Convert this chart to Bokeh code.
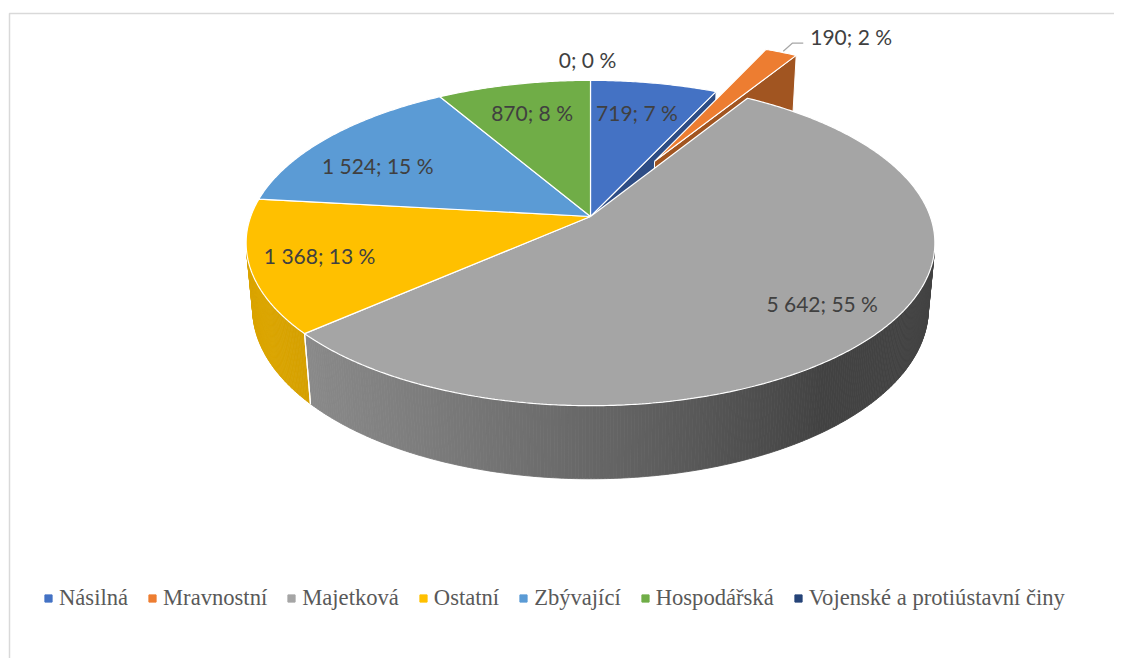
import numpy as np
from bokeh.plotting import figure
from bokeh.models import Range1d, ColumnDataSource, Legend, LegendItem
from bokeh.core.properties import value
from bokeh.embed import file_html
from bokeh.resources import INLINE

# ---------------- data ----------------
categories = ["Násilná", "Mravnostní", "Majetková", "Ostatní", "Zbývající",
              "Hospodářská", "Vojenské a protiústavní činy"]
counts = [719, 190, 5642, 1368, 1524, 870, 0]
colors = ["#4472C4", "#ED7D31", "#A5A5A5", "#FFC000", "#5B9BD5", "#70AD47", "#264478"]

# ---------------- style / layout ----------------
explode = [0.0, 0.42, 0.0, 0.0, 0.0, 0.0, 0.0]
label_r = [0.75, None, 0.8, 0.8, 0.78, 0.76, 1.18]
label_nudge = [(-3, 0), (0, -3), (5, -2), (-1, -1), (-5, 12), (2, 0), (-3, 0)]

CX, CY = 590.0, 216.0
FOC = 1845.0
DIST = 5.43
SN, CS = 0.466, 0.885
HGT = 0.22
CAM = np.array([0.0, DIST * SN, DIST * CS])


def proj(X, Y, Z):
    X = np.asarray(X, float); Y = np.asarray(Y, float); Z = np.asarray(Z, float)
    depth = DIST - (Z * CS + Y * SN)
    return CX + FOC * X / depth, CY + FOC * (Z * SN - Y * CS) / depth


def shade(hexcol, f):
    r, g, b = int(hexcol[1:3], 16), int(hexcol[3:5], 16), int(hexcol[5:7], 16)
    return "#%02x%02x%02x" % (int(r * f), int(g * f), int(b * f))


def wall_factor(theta_deg):
    d = np.cos(np.radians(theta_deg - 250.0))
    return 0.40 + 0.46 * np.clip((d + 0.3) / 1.3, 0, 1)


total = float(sum(counts))
fr = [c / total for c in counts]
cum = np.concatenate([[0.0], np.cumsum(fr)])
starts = cum[:-1] * 360.0
ends = cum[1:] * 360.0
mids = 0.5 * (starts + ends)
offs = [(e * np.sin(np.radians(m)), -e * np.cos(np.radians(m))) for e, m in zip(explode, mids)]

p = figure(width=1114, height=658, x_range=Range1d(0, 1114), y_range=Range1d(658, 0),
           output_backend="svg", toolbar_location=None, min_border=0,
           x_axis_location=None, y_axis_location=None)
p.grid.visible = False
p.outline_line_color = None
p.background_fill_color = "white"

# chart border (top and left visible)
p.line([9, 9, 1122], [666, 13, 13], line_color="#D9D9D9", line_width=1.5)

# ---------------- walls ----------------
wx, wy, wc = [], [], []
edge_x, edge_y = [], []
for i in range(len(counts)):
    if counts[i] == 0:
        continue
    a0, a1 = starts[i], ends[i]
    ox, oz = offs[i]
    n = max(2, int(np.ceil((a1 - a0) / 0.5)))
    angs = np.linspace(a0, a1, n + 1)
    vis = []
    for k in range(n):
        am = np.radians(0.5 * (angs[k] + angs[k + 1]))
        nx, nz = np.sin(am), -np.cos(am)
        px, pz = nx + ox, nz + oz
        dot = nx * (CAM[0] - px) + nz * (CAM[2] - pz)
        vis.append(dot > 0)
        if dot <= 0:
            continue
        aa = np.radians([angs[k], angs[k + 1]])
        X = np.sin(aa) + ox
        Z = -np.cos(aa) + oz
        tx, ty = proj(X, [0, 0], Z)
        bx, by = proj(X, [-HGT, -HGT], Z)
        wx.append([tx[0], tx[1], bx[1], bx[0]])
        wy.append([ty[0], ty[1], by[1], by[0]])
        wc.append(shade(colors[i], wall_factor(np.degrees(am))))
    for ang, v in ((a0, vis[0]), (a1, vis[-1])):
        if v and not (ang < 1e-6 or ang > 359.999):
            r = np.radians(ang)
            ex, ey = proj([np.sin(r) + ox] * 2, [0, -HGT], [-np.cos(r) + oz] * 2)
            edge_x.append(list(ex)); edge_y.append(list(ey))

p.patches(xs="xs", ys="ys", fill_color="c", line_color="c", line_width=0.8,
          source=ColumnDataSource(dict(xs=wx, ys=wy, c=wc)))
if edge_x:
    p.multi_line(edge_x, edge_y, line_color="white", line_width=1.2)

# ---------------- cut faces next to exploded slices ----------------
nz_idx = [i for i in range(len(counts)) if counts[i] > 0]
cfx, cfy, cfc = [], [], []
for j, i in enumerate(nz_idx):
    prv = nz_idx[j - 1]
    nxt = nz_idx[(j + 1) % len(nz_idx)]
    ox, oz = offs[i]
    faces = []
    if explode[i] > 0 or explode[prv] > 0:
        faces.append((starts[i], -1))
    if explode[i] > 0 or explode[nxt] > 0:
        faces.append((ends[i], 1))
    for ang, sgn in faces:
        r = np.radians(ang)
        nx, nz = sgn * np.cos(r), sgn * np.sin(r)
        dot = nx * (CAM[0] - ox) + nz * (CAM[2] - oz)
        if dot <= 0:
            continue
        X = [ox, np.sin(r) + ox, np.sin(r) + ox, ox]
        Y = [0, 0, -HGT, -HGT]
        Z = [oz, -np.cos(r) + oz, -np.cos(r) + oz, oz]
        fx, fy = proj(X, Y, Z)
        cfx.append(list(fx)); cfy.append(list(fy))
        cfc.append(shade(colors[i], 0.68))
if cfx:
    p.patches(xs="xs", ys="ys", fill_color="c", line_color="white", line_width=1.0,
              source=ColumnDataSource(dict(xs=cfx, ys=cfy, c=cfc)))

# ---------------- top faces ----------------
tx_, ty_, tc_ = [], [], []
for i in range(len(counts)):
    if counts[i] == 0:
        continue
    ox, oz = offs[i]
    n = max(2, int(np.ceil((ends[i] - starts[i]) / 0.5)))
    aa = np.radians(np.linspace(starts[i], ends[i], n + 1))
    X = np.concatenate([[ox], np.sin(aa) + ox])
    Z = np.concatenate([[oz], -np.cos(aa) + oz])
    sx, sy = proj(X, np.zeros_like(X), Z)
    tx_.append(list(sx)); ty_.append(list(sy)); tc_.append(colors[i])
p.patches(xs="xs", ys="ys", fill_color="c", line_color="white", line_width=1.2,
          source=ColumnDataSource(dict(xs=tx_, ys=ty_, c=tc_)))

# ---------------- data labels ----------------
lab_x, lab_y, lab_t = [], [], []
out_x, out_y, out_t = [], [], []
for i in range(len(counts)):
    txt = f"{counts[i]:,}".replace(",", " ") + "; " + f"{round(100 * counts[i] / total)} %"
    ox, oz = offs[i]
    m = np.radians(mids[i])
    if label_r[i] is not None:
        r = label_r[i]
        sx, sy = proj(r * np.sin(m) + ox, 0.0, -r * np.cos(m) + oz)
        lab_x.append(float(sx) + label_nudge[i][0])
        lab_y.append(float(sy) + label_nudge[i][1])
        lab_t.append(txt)
    else:
        sx, sy = proj(np.sin(m) + ox, 0.0, -np.cos(m) + oz)
        sx, sy = float(sx) + 2, float(sy) - 1
        p.line([sx, sx + 9, sx + 20], [sy, sy - 8, sy - 8], line_color="#A6A6A6", line_width=1.2)
        out_x.append(sx + 27 + label_nudge[i][0]); out_y.append(sy - 12 + label_nudge[i][1])
        out_t.append(txt)

p.text(lab_x, lab_y, text=lab_t, text_font=value("Lato"), text_font_size="21px",
       text_color="#404040", text_align="center", text_baseline="middle")
p.text(out_x, out_y, text=out_t, text_font=value("Lato"), text_font_size="21px",
       text_color="#404040", text_align="left", text_baseline="middle")

# ---------------- legend ----------------
items = []
for cat, col in zip(categories, colors):
    r = p.scatter(x=[-500], y=[-500], marker="square", fill_color=col, line_color=col)
    items.append(LegendItem(label=cat, renderers=[r], index=0))
legend = Legend(items=items, orientation="horizontal", location=(39, 47),
                label_text_font="Liberation Serif, Times New Roman, serif",
                label_text_font_size="22.6px",
                label_text_color="#595959", glyph_width=18, glyph_height=18,
                label_standoff=2, spacing=15, padding=0, margin=0,
                border_line_color=None, background_fill_alpha=0)
p.add_layout(legend)

open("out.html", "w").write(file_html(p, INLINE))
